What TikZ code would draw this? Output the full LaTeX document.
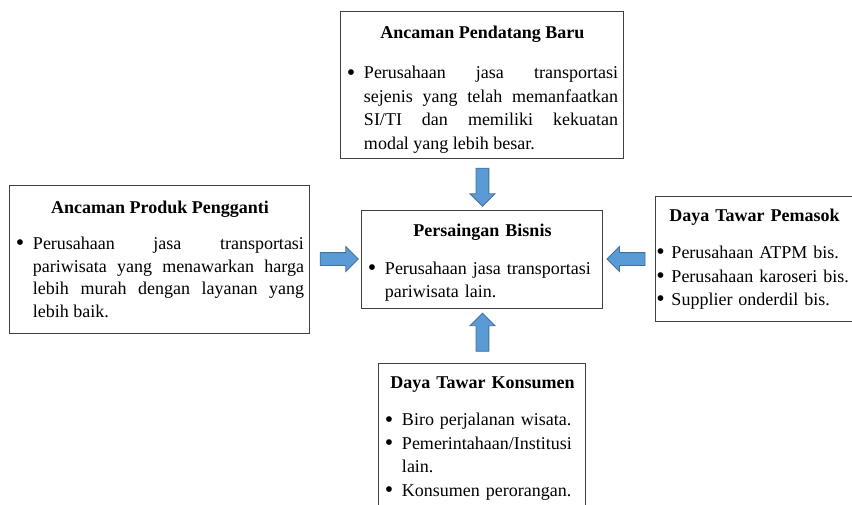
\documentclass[tikz,border=0pt]{standalone}
\usepackage{fontspec}
\setmainfont{Liberation Serif}
\usepackage{tikz}
\usetikzlibrary{shapes,arrows,calc}
\definecolor{arrowblue}{RGB}{91,155,213}
\definecolor{arrowedge}{RGB}{65,113,156}
\newlength{\bhang}\setlength{\bhang}{17pt}
\newcommand{\bmark}{\raisebox{-1.3pt}{\fontsize{24}{24}\selectfont\textbullet}}
\newcommand{\bpoint}[1]{\par\leftskip=\bhang\noindent\llap{\makebox[\bhang][l]{\bmark}}#1\par}
\newcommand{\btitle}[2][0pt]{{\centering\bfseries\rule{0pt}{#1}#2\par}\vspace{14pt}}
\tikzstyle{box} = [rectangle, draw=black!75, line width=1pt, inner xsep=6pt, 
inner ysep=0pt, font=\fontsize{18}{23.5}\selectfont]
\tikzstyle{bigarrow} = [single arrow, draw=arrowedge, fill=arrowblue, line width=0.8pt, 
minimum height=38pt, single arrow head extend=6pt, inner sep=6pt]

\begin{document}
\begin{tikzpicture}[x=1pt, y=1pt]
\useasboundingbox (-482.5,-245) rectangle (369.5,259);
\clip (-482.5,-245) rectangle (369.5,259);
% Place nodes
\node [box, text width=229pt, minimum height=98pt, align=left] (bisnis)
{\btitle[20.5pt]{Persaingan Bisnis}\bpoint{Perusahaan jasa transportasi\linebreak pariwisata lain.}};
\node [box, above of=bisnis, node distance=174pt, text width=271pt, minimum height=146pt, align=justify] (baru)
{\btitle[21.5pt]{Ancaman Pendatang Baru}\vspace{3pt}\bpoint{Perusahaan jasa transportasi\linebreak sejenis yang telah memanfaatkan\linebreak SI/TI dan memiliki kekuatan\linebreak modal yang lebih besar.}};
\node [box, left of=bisnis, node distance=322.5pt, text width=288pt, minimum height=148pt, align=justify,
font=\fontsize{18}{22.5}\selectfont] (pengganti)
{\btitle{Ancaman Produk Pengganti}\bpoint{Perusahaan jasa transportasi\linebreak pariwisata yang menawarkan harga\linebreak lebih murah dengan layanan yang\linebreak lebih baik.}};
\node [box, right of=bisnis, node distance=272pt, text width=196pt, inner xsep=1pt, minimum height=125pt, align=left] (pemasok)
{\setlength{\bhang}{15pt}\btitle{Daya Tawar Pemasok}\bpoint{Perusahaan ATPM bis.}\bpoint{Perusahaan karoseri bis.}\bpoint{Supplier onderdil bis.}};
\node [box, below of=bisnis, node distance=179.5pt, text width=195pt, minimum height=151pt, align=left] (konsumen)
{\btitle{Daya Tawar Konsumen}\bpoint{Biro perjalanan wisata.}\bpoint{Pemerintahaan/Institusi lain.}\bpoint{Konsumen perorangan.}};
% Draw arrows
\node [bigarrow, shape border rotate=270] (abaru) at ($(baru.south)!0.5!(bisnis.north)$) {};
\node [bigarrow, shape border rotate=0] (apengganti) at ($(pengganti.east)!0.5!(bisnis.west)$) {};
\node [bigarrow, shape border rotate=180] (apemasok) at ($(pemasok.west)!0.5!(bisnis.east)$) {};
\node [bigarrow, shape border rotate=90] (akonsumen) at ($(konsumen.north)!0.5!(bisnis.south)$) {};
\end{tikzpicture}
\end{document}
